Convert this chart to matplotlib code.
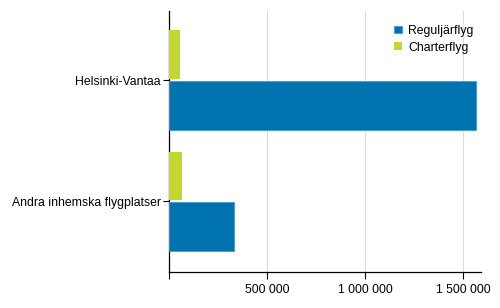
import matplotlib.pyplot as plt
import numpy as np
from matplotlib.ticker import FuncFormatter

plt.rcParams['font.family'] = ['Liberation Sans', 'DejaVu Sans']

kategorier = ['Andra inhemska flygplatser', 'Helsinki-Vantaa']
reguljar = [334000, 1569000]
charter = [65000, 56000]
serier = ['Reguljärflyg', 'Charterflyg']
xticks = [0, 500000, 1000000, 1500000]

fig = plt.figure(figsize=(5, 3.08), dpi=100)
ax = fig.add_axes([0.338, 0.117, 0.624, 0.847])

y = np.arange(len(kategorier))
h = 0.4
ax.barh(y - 0.21, reguljar, height=h, color='#0072b0', edgecolor='#3f9ad0',
        linewidth=0.6, label=serier[0], zorder=3)
ax.barh(y + 0.21, charter, height=h, color='#c3d82e', label=serier[1], zorder=3)

ax.set_ylim(-0.585, 1.57)
ax.set_xlim(0, 1592000)
ax.set_yticks(y)
ax.set_yticklabels(kategorier, fontsize=8.8)
ax.set_xticks(xticks)
ax.xaxis.set_major_formatter(FuncFormatter(lambda v, p: f'{int(v):,}'.replace(',', ' ') if v else ''))
ax.tick_params(axis='x', labelsize=8.8, length=5, color='black', pad=4)
ax.tick_params(axis='y', length=4, pad=2)
ax.grid(axis='x', color='#dcdcdc', linewidth=0.8, zorder=0)
for s in ['top', 'right']:
    ax.spines[s].set_visible(False)
ax.spines['left'].set_linewidth(0.9)
ax.spines['bottom'].set_linewidth(0.9)

leg = ax.legend(loc='upper right', bbox_to_anchor=(1.012, 0.99), frameon=False, fontsize=8.8,
                handlelength=0.6, handleheight=0.6, handletextpad=0.55, labelspacing=0.4)

fig.savefig('out.png', dpi=100)
